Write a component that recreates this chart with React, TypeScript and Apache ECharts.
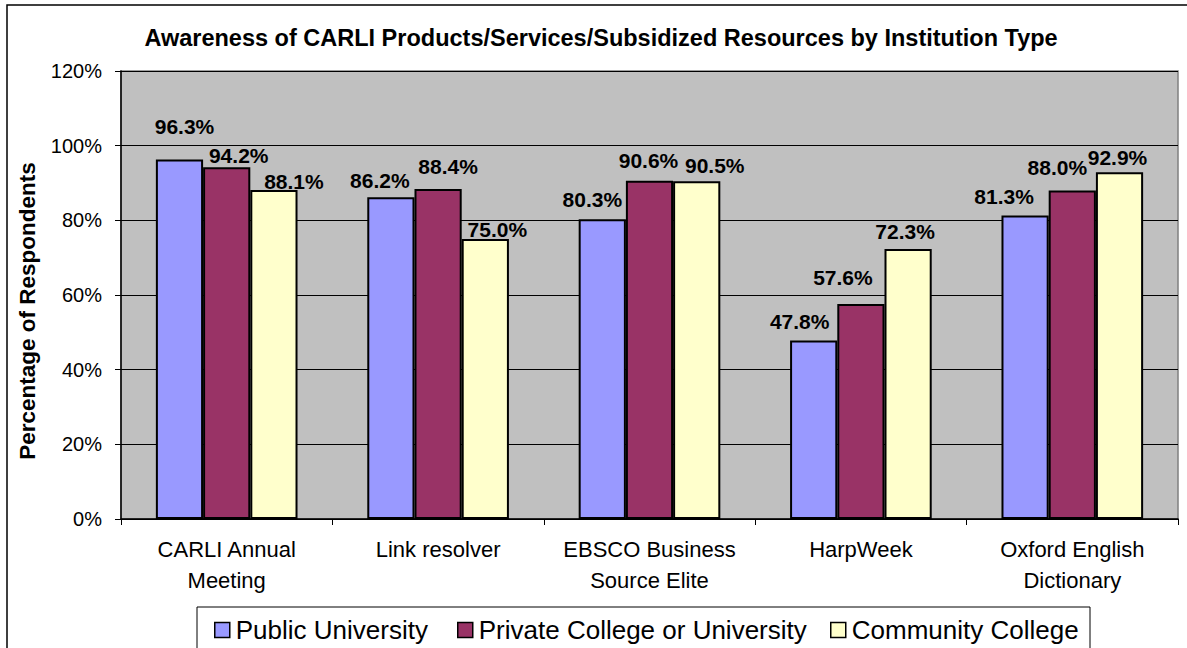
import React, { useEffect, useRef } from "react";
import * as echarts from "echarts";

const categories = [
  "CARLI Annual\nMeeting",
  "Link resolver",
  "EBSCO Business\nSource Elite",
  "HarpWeek",
  "Oxford English\nDictionary",
];
const seriesNames = ["Public University", "Private College or University", "Community College"];
const publicUniversity = [96.3, 86.2, 80.3, 47.8, 81.3];
const privateCollege = [94.2, 88.4, 90.6, 57.6, 88.0];
const communityCollege = [88.1, 75.0, 90.5, 72.3, 92.9];
const yTicks = [0, 20, 40, 60, 80, 100, 120];

const colors = ["#9999FF", "#993366", "#FFFFCC"];
// label nudges (styling only) per series, per category
const labelOffsets = [
  [[5, -17], [-11, -1], [-10, -4], [-14, -4], [-21, -3]],
  [[12, 4], [10, -7], [-1, -5], [-18, -11], [-15, -7]],
  [[20, 7], [12, 6], [18, 0], [-3, -2], [-2, 1]],
];
const legendLefts = [214, 457, 830];

const FONT = "'Liberation Sans', Arial, sans-serif";

export default function App() {
  const ref = useRef<HTMLDivElement>(null);
  useEffect(() => {
    if (!ref.current) return;
    const chart = echarts.init(ref.current, undefined, { renderer: "svg" });
    const values = [publicUniversity, privateCollege, communityCollege];
    const series = values.map((vals, si) => ({
      name: seriesNames[si],
      type: "bar",
      barGap: "0%",
      barCategoryGap: "33%",
      itemStyle: { color: colors[si], borderColor: "#000", borderWidth: 2 },
      label: {
        show: true,
        position: "top",
        distance: 5,
        fontFamily: FONT,
        fontSize: 21,
        fontWeight: "bold",
        color: "#000",
        formatter: (p: any) => p.value.toFixed(1) + "%",
      },
      data: vals.map((v, ci) => ({ value: v, label: { offset: labelOffsets[si][ci] } })),
    }));
    chart.setOption({
      animation: false,
      backgroundColor: "#fff",
      textStyle: { fontFamily: FONT },
      grid: {
        left: 121,
        top: 71,
        right: 9,
        bottom: 129,
        show: true,
        backgroundColor: "#C0C0C0",
        borderColor: "#808080",
        borderWidth: 1.5,
      },
      legend: seriesNames.map((n, i) => ({
        data: [n],
        left: legendLefts[i],
        top: 617,
        padding: 0,
        icon: "rect",
        itemWidth: 15,
        itemHeight: 15,
        itemStyle: { borderColor: "#000", borderWidth: 1.5 },
        textStyle: { fontFamily: FONT, fontSize: 26, color: "#000", padding: [0, 0, 0, 1] },
        selectedMode: false,
      })),
      xAxis: {
        type: "category",
        data: categories,
        axisLine: { show: true, lineStyle: { color: "#000", width: 1.5 } },
        axisTick: { show: true, length: 6, lineStyle: { color: "#000", width: 1 } },
        axisLabel: {
          fontFamily: FONT,
          fontSize: 22,
          color: "#000",
          lineHeight: 31,
          margin: 15,
          interval: 0,
        },
      },
      yAxis: {
        type: "value",
        min: yTicks[0],
        max: yTicks[yTicks.length - 1],
        interval: 20,
        axisLine: { show: true, lineStyle: { color: "#000", width: 1.5 } },
        axisTick: { show: true, length: 6, lineStyle: { color: "#000", width: 1 } },
        axisLabel: {
          fontFamily: FONT,
          fontSize: 20,
          color: "#000",
          margin: 19,
          formatter: "{value}%",
        },
        splitLine: { show: true, lineStyle: { color: "#000", width: 1 } },
      },
      graphic: [
        {
          type: "rect",
          z: -10,
          silent: true,
          shape: { x: 7, y: 5, width: 1200, height: 700 },
          style: { fill: "none", stroke: "#000", lineWidth: 1.5 },
        },
        {
          type: "rect",
          z: 1,
          silent: true,
          shape: { x: 197, y: 607, width: 893, height: 60 },
          style: { fill: "#fff", stroke: "#000", lineWidth: 1 },
        },
        {
          type: "text",
          x: 601,
          y: 38,
          style: {
            text: "Awareness of CARLI Products/Services/Subsidized Resources by Institution Type",
            fontFamily: FONT,
            fontSize: 23.5,
            fontWeight: "bold",
            fill: "#000",
            textAlign: "center",
            textVerticalAlign: "middle",
          },
        },
        {
          type: "text",
          x: 27,
          y: 311,
          rotation: Math.PI / 2,
          style: {
            text: "Percentage of Respondents",
            fontFamily: FONT,
            fontSize: 22.5,
            fontWeight: "bold",
            fill: "#000",
            textAlign: "center",
            textVerticalAlign: "middle",
          },
        },
      ],
      series,
    });
    return () => chart.dispose();
  }, []);
  return (
    <div
      ref={ref}
      style={{ position: "absolute", left: 0, top: 0, width: 1187, height: 648, background: "#fff" }}
    />
  );
}
